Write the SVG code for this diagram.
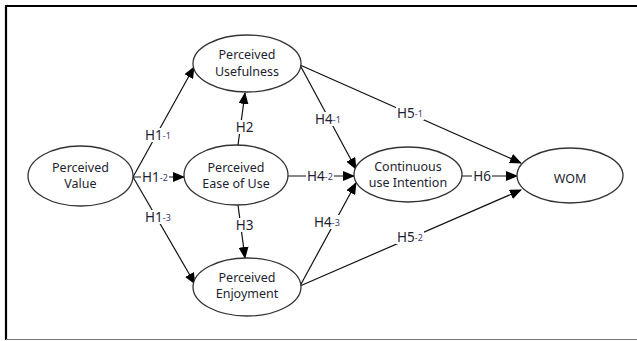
<svg xmlns="http://www.w3.org/2000/svg" width="637" height="341" viewBox="0 0 637 341">
<defs>
<marker id="arr" markerUnits="userSpaceOnUse" markerWidth="12" markerHeight="10" refX="11" refY="5" orient="auto">
<path d="M0,0 L12,5 L0,10 z" fill="#000"/>
</marker>
<style>
.node ellipse{fill:#fff;stroke:#333;stroke-width:1.3}
.node text{font-family:"Noto Sans","DejaVu Sans",sans-serif;font-size:12.5px;fill:#1e1e30;text-anchor:middle}
.edge line{stroke:#111;stroke-width:1.2;marker-end:url(#arr)}
.lab rect{fill:#fff}
.lab text{font-family:"Noto Sans","DejaVu Sans",sans-serif;font-size:13.5px;fill:#1e1e30;text-anchor:middle;dominant-baseline:central}
.lab tspan{font-size:9px;fill:#3a3a70}
</style>
</defs>
<rect width="637" height="341" fill="#fff"/>
<line x1="6" y1="6" x2="637" y2="6" stroke="#000" stroke-width="2.2"/>
<line x1="6" y1="5" x2="6" y2="340" stroke="#000" stroke-width="2.2"/>
<line x1="6" y1="339.5" x2="637" y2="339.5" stroke="#777" stroke-width="1"/>

<g id="connectors">
<g class="edge">
<line x1="133" y1="177" x2="194" y2="67"/>
<line x1="133" y1="177" x2="184" y2="177"/>
<line x1="133" y1="177" x2="195" y2="284"/>
<line x1="238" y1="145" x2="245" y2="93"/>
<line x1="238" y1="205" x2="245" y2="258"/>
<line x1="300" y1="65" x2="356" y2="169"/>
<line x1="288" y1="176" x2="354" y2="176"/>
<line x1="300" y1="286" x2="356" y2="183"/>
<line x1="300" y1="65" x2="521" y2="163"/>
<line x1="300" y1="286" x2="521" y2="190"/>
<line x1="462" y1="176" x2="517" y2="176"/>
</g>
<g class="lab">
<rect x="144" y="128" width="28" height="14"/><text x="158" y="135">H1<tspan>-1</tspan></text>
<rect x="141" y="170" width="28" height="14"/><text x="155" y="177">H1<tspan>-2</tspan></text>
<rect x="144" y="210" width="28" height="14"/><text x="158" y="217">H1<tspan>-3</tspan></text>
<rect x="235" y="120" width="19" height="14"/><text x="244.5" y="127">H2</text>
<rect x="235" y="218" width="19" height="14"/><text x="244.5" y="225">H3</text>
<rect x="314" y="112" width="28" height="14"/><text x="328" y="119">H4<tspan>-1</tspan></text>
<rect x="306" y="169" width="28" height="14"/><text x="320" y="176">H4<tspan>-2</tspan></text>
<rect x="313" y="215" width="28" height="14"/><text x="327" y="222">H4<tspan>-3</tspan></text>
<rect x="396" y="106" width="28" height="14"/><text x="410" y="113">H5<tspan>-1</tspan></text>
<rect x="396" y="230" width="28" height="14"/><text x="410" y="237">H5<tspan>-2</tspan></text>
<rect x="472" y="169" width="20" height="14"/><text x="482" y="176">H6</text>
</g>
</g>

<g id="perceived-value" class="node">
<ellipse cx="80.5" cy="176" rx="52.5" ry="30"/>
<text x="80.5" y="171.5">Perceived</text><text x="80.5" y="188">Value</text>
</g>
<g id="perceived-usefulness" class="node">
<ellipse cx="247" cy="63.5" rx="54" ry="28.5"/>
<text x="247" y="59">Perceived</text><text x="247" y="75.5">Usefulness</text>
</g>
<g id="perceived-ease-of-use" class="node">
<ellipse cx="236" cy="175" rx="52" ry="30"/>
<text x="236" y="171.5">Perceived</text><text x="236" y="188">Ease of Use</text>
</g>
<g id="perceived-enjoyment" class="node">
<ellipse cx="247" cy="287" rx="54" ry="29"/>
<text x="247" y="281.5">Perceived</text><text x="247" y="298">Enjoyment</text>
</g>
<g id="continuous-use-intention" class="node">
<ellipse cx="408" cy="174.5" rx="54" ry="27.5"/>
<text x="408" y="170.5">Continuous</text><text x="408" y="187">use Intention</text>
</g>
<g id="wom" class="node">
<ellipse cx="570" cy="175.5" rx="53" ry="27.5"/>
<text x="570" y="183">WOM</text>
</g>
</svg>
